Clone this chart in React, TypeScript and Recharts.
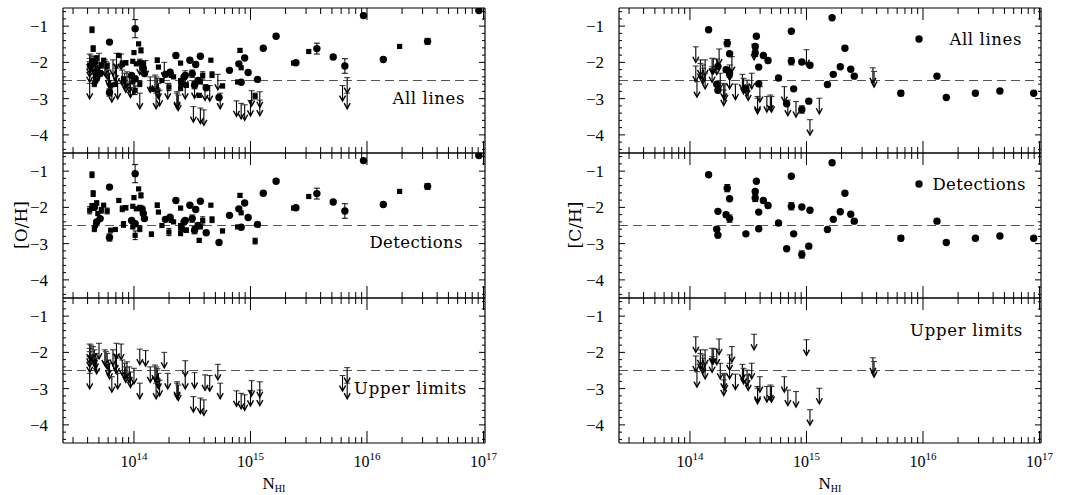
import React from 'react';
import { ScatterChart, Scatter, XAxis, YAxis, ErrorBar, ReferenceLine } from 'recharts';

// [log10 N_HI, [O/H], error]
const oDetCircles: [number, number, number][] = [
  [13.66, -2.0, 0], [13.68, -2.4, 0], [13.71, -2.31, 0], [13.79, -1.44, 0], [13.79, -2.83, 0.1],
  [14.01, -1.07, 0.25], [13.98, -2.36, 0], [14.01, -2.45, 0], [14.08, -2.17, 0], [14.09, -2.31, 0],
  [14.07, -2.04, 0], [14.27, -2.33, 0], [14.31, -2.27, 0], [14.36, -1.81, 0], [14.41, -2.59, 0.08],
  [14.43, -2.4, 0], [14.44, -2.36, 0], [14.48, -1.94, 0], [14.5, -2.31, 0.1], [14.52, -2.63, 0.1],
  [14.53, -2.06, 0], [14.55, -2.5, 0], [14.57, -1.83, 0], [14.62, -2.7, 0], [14.73, -2.97, 0],
  [14.82, -2.22, 0], [14.9, -2.04, 0], [14.92, -2.55, 0], [14.95, -1.88, 0], [14.98, -2.28, 0],
  [15.06, -2.47, 0], [15.11, -1.61, 0], [15.22, -1.28, 0.05], [15.39, -2.01, 0], [15.57, -1.62, 0.15],
  [15.71, -1.85, 0], [15.81, -2.1, 0.2], [15.97, -0.71, 0], [16.14, -1.92, 0], [16.52, -1.42, 0.08],
  [16.96, -0.57, 0],
];
const oDetSquares: [number, number, number][] = [
  [13.64, -1.1, 0.08], [13.65, -1.62, 0.08], [13.62, -2.08, 0.1], [13.64, -1.95, 0], [13.68, -1.88, 0.06],
  [13.69, -2.17, 0], [13.66, -2.59, 0.08], [13.67, -2.5, 0], [13.72, -2.08, 0.08], [13.74, -1.94, 0],
  [13.77, -2.1, 0.08], [13.8, -2.63, 0], [13.84, -2.61, 0], [13.87, -1.81, 0], [13.9, -2.04, 0.08],
  [13.93, -2.01, 0.06], [13.91, -2.47, 0.08], [14.0, -1.73, 0], [14.04, -1.49, 0], [14.06, -1.67, 0.07],
  [13.99, -1.97, 0], [14.02, -2.04, 0], [13.99, -2.54, 0], [14.01, -2.77, 0.12], [14.05, -2.59, 0.08],
  [14.05, -2.0, 0], [14.15, -2.74, 0.06], [14.2, -1.94, 0.06], [14.21, -2.13, 0], [14.24, -2.5, 0],
  [14.3, -2.68, 0.1], [14.32, -2.36, 0], [14.34, -2.4, 0], [14.4, -2.02, 0], [14.4, -2.5, 0],
  [14.4, -2.72, 0.06], [14.45, -2.63, 0.06], [14.56, -2.91, 0.05], [14.57, -2.54, 0], [14.59, -2.36, 0.1],
  [14.66, -1.94, 0], [14.67, -2.34, 0.08], [14.76, -2.65, 0.05], [14.89, -2.54, 0], [14.91, -1.67, 0.05],
  [14.92, -2.15, 0], [15.04, -2.93, 0.08], [15.37, -2.02, 0], [15.5, -1.7, 0], [16.28, -1.56, 0],
];
// [log10 N_HI, upper limit of [O/H]]
const oUpper: [number, number][] = [
  [13.62, -1.77], [13.62, -1.89], [13.62, -1.98], [13.62, -2.12], [13.62, -2.58],
  [13.63, -1.8], [13.65, -1.84], [13.66, -1.93], [13.67, -2.03], [13.68, -2.16], [13.7, -1.75],
  [13.75, -1.93], [13.76, -1.98], [13.77, -2.03], [13.78, -2.21], [13.79, -2.3], [13.81, -2.67],
  [13.82, -1.93], [13.84, -2.07], [13.85, -2.16], [13.85, -1.75], [13.86, -2.58], [13.89, -1.77],
  [13.9, -2.21], [13.92, -2.3], [13.93, -2.4], [13.94, -2.26], [13.96, -2.4], [13.97, -2.54],
  [14.0, -2.44], [14.05, -1.91], [14.05, -2.85], [14.1, -1.95], [14.14, -2.4], [14.18, -2.35],
  [14.19, -2.4], [14.2, -2.44], [14.2, -2.49], [14.21, -2.58], [14.22, -2.77], [14.19, -2.85],
  [14.26, -2.0], [14.29, -2.58], [14.37, -2.81], [14.37, -2.85], [14.38, -2.9], [14.44, -2.23],
  [14.44, -2.58], [14.51, -3.22], [14.52, -2.56], [14.57, -3.26], [14.6, -3.31], [14.61, -2.62],
  [14.65, -2.64], [14.72, -2.33], [14.74, -2.85], [14.88, -3.06], [14.92, -3.13], [14.95, -3.17],
  [15.0, -3.05], [15.01, -2.78], [15.08, -2.81], [15.08, -3.04], [15.79, -2.64], [15.83, -2.42],
  [15.83, -2.85],
];
// [log10 N_HI, [C/H], error]
const cDetCircles: [number, number, number][] = [
  [14.16, -1.1, 0], [14.32, -1.47, 0.1], [14.34, -1.76, 0], [14.24, -2.11, 0], [14.31, -2.2, 0.06],
  [14.34, -2.31, 0.1], [14.23, -2.6, 0.05], [14.24, -2.77, 0], [14.48, -2.73, 0], [14.57, -1.28, 0],
  [14.56, -1.56, 0.05], [14.56, -1.74, 0.1], [14.63, -1.81, 0], [14.67, -1.95, 0.06], [14.59, -2.13, 0],
  [14.59, -2.59, 0], [14.76, -2.43, 0], [14.87, -1.14, 0], [14.87, -1.97, 0.1], [14.89, -2.73, 0],
  [14.96, -1.99, 0], [15.03, -2.08, 0], [14.83, -3.14, 0], [14.96, -3.3, 0.1], [15.02, -3.07, 0.05],
  [15.18, -2.61, 0], [15.22, -0.77, 0], [15.23, -2.33, 0], [15.29, -2.12, 0], [15.33, -1.61, 0],
  [15.38, -2.19, 0], [15.41, -2.38, 0.05], [15.81, -2.85, 0.07], [16.12, -2.38, 0], [16.2, -2.97, 0],
  [16.45, -2.85, 0.04], [16.66, -2.79, 0], [16.95, -2.85, 0],
];
// [log10 N_HI, upper limit of [C/H]]
const cUpper: [number, number][] = [
  [14.05, -1.57], [14.05, -2.1], [14.06, -2.53], [14.09, -1.93], [14.09, -2.03], [14.11, -2.07],
  [14.11, -2.16], [14.13, -1.93], [14.13, -2.3], [14.19, -1.89], [14.19, -2.12], [14.2, -1.89],
  [14.23, -1.91], [14.25, -1.63], [14.26, -2.3], [14.29, -2.58], [14.29, -2.76], [14.3, -2.62],
  [14.34, -2.07], [14.34, -2.3], [14.36, -1.84], [14.39, -2.6], [14.45, -2.33], [14.46, -2.44],
  [14.49, -2.49], [14.5, -2.62], [14.53, -2.3], [14.55, -1.5], [14.58, -2.94], [14.58, -2.99],
  [14.6, -2.67], [14.66, -2.94], [14.69, -2.9], [14.7, -2.94], [14.81, -2.67], [14.84, -3.04],
  [14.91, -3.08], [15.0, -1.65], [15.03, -3.58], [15.11, -2.99], [15.57, -2.15], [15.58, -2.25],
];

const xMajorTicks = [1e14, 1e15, 1e16, 1e17];
const xMinorTicks = [
  3e13, 4e13, 5e13, 6e13, 7e13, 8e13, 9e13,
  2e14, 3e14, 4e14, 5e14, 6e14, 7e14, 8e14, 9e14,
  2e15, 3e15, 4e15, 5e15, 6e15, 7e15, 8e15, 9e15,
  2e16, 3e16, 4e16, 5e16, 6e16, 7e16, 8e16, 9e16,
];
const yMajorTicks = [-4, -3, -2, -1];
const yMinorTicks = [
  -4.4, -4.2, -3.8, -3.6, -3.4, -3.2, -2.8, -2.6, -2.4, -2.2, -1.8, -1.6, -1.4, -1.2, -0.8, -0.6,
];
const solarLine = -2.5;
const X_DOMAIN: [number, number] = [2.46e13, 1.03e17];
const Y_DOMAIN: [number, number] = [-4.5, -0.5];

// panel geometry (px) used to express tick-mark lengths in data units
const PLOT_W = 422;
const PLOT_H = 145;
const Y_PER_PX = (Y_DOMAIN[1] - Y_DOMAIN[0]) / PLOT_H;
const DEC_PER_PX = (Math.log10(X_DOMAIN[1]) - Math.log10(X_DOMAIN[0])) / PLOT_W;

const SERIF = '"Liberation Serif", "DejaVu Serif", serif';
const SERIF2 = '"DejaVu Serif", "Liberation Serif", serif';

type Row = { n: number; v: number; e?: number };
const toRows = (arr: number[][]): Row[] =>
  arr.map((d) => ({ n: Math.pow(10, d[0]), v: d[1], e: d[2] ? d[2] : undefined }));

type Seg = [{ x: number; y: number }, { x: number; y: number }];
const buildTickSegments = (): Seg[] => {
  const segs: Seg[] = [];
  const [x0, x1] = X_DOMAIN;
  const [y0, y1] = Y_DOMAIN;
  const xt = (t: number, px: number) => {
    const d = px * Y_PER_PX;
    segs.push([{ x: t, y: y0 }, { x: t, y: y0 + d }]);
    segs.push([{ x: t, y: y1 }, { x: t, y: y1 - d }]);
  };
  const yt = (t: number, px: number) => {
    const f = Math.pow(10, px * DEC_PER_PX);
    segs.push([{ x: x0, y: t }, { x: x0 * f, y: t }]);
    segs.push([{ x: x1 / f, y: t }, { x: x1, y: t }]);
  };
  xMajorTicks.forEach((t) => xt(t, 12));
  xMinorTicks.forEach((t) => xt(t, 6));
  yMajorTicks.forEach((t) => yt(t, 6));
  yMinorTicks.forEach((t) => yt(t, 3));
  return segs;
};
const TICK_SEGMENTS = buildTickSegments();

const CircleShape = (p: any) => <circle cx={p.cx} cy={p.cy} r={3.7} fill="#000" />;
const SquareShape = (p: any) => <rect x={p.cx - 2.6} y={p.cy - 2.6} width={5.2} height={5.2} fill="#000" />;
const ArrowShape = (p: any) => {
  const { cx, cy } = p;
  return (
    <g stroke="#000" fill="none" strokeWidth={1.1}>
      <line x1={cx - 3} x2={cx + 3} y1={cy} y2={cy} stroke="#444" />
      <line x1={cx} x2={cx} y1={cy} y2={cy + 15} />
      <path d={`M${cx - 3},${cy + 10} L${cx},${cy + 15.5} L${cx + 3},${cy + 10}`} strokeWidth={1.4} />
    </g>
  );
};

const XLabel = (props: any) => {
  const { x, y, payload } = props;
  const e = Math.round(Math.log10(payload.value));
  return (
    <text x={x} y={y + 24} textAnchor="middle" fontFamily={SERIF} fontSize={16} fill="#000" stroke="none">
      <tspan>10</tspan>
      <tspan dy={-7} fontSize={11}>{String(e)}</tspan>
    </text>
  );
};
const YLabel = (props: any) => {
  const { x, y, payload } = props;
  return (
    <text x={x - 15} y={y} dy="0.36em" textAnchor="end" fontFamily={SERIF} fontSize={17} fill="#000" stroke="none">
      {'\u2212' + Math.abs(Math.round(payload.value))}
    </text>
  );
};
const NoLabel = () => <g />;

const axisStyle = { stroke: '#000', strokeWidth: 1.2 };

type PanelProps = {
  left: number;
  top: number;
  height: number;
  mLeft: number;
  mRight: number;
  mBottom: number;
  circles?: Row[];
  squares?: Row[];
  upper?: Row[];
  xLabels: boolean;
};

const Panel = ({ left, top, height, mLeft, mRight, mBottom, circles, squares, upper, xLabels }: PanelProps) => (
  <div style={{ position: 'absolute', left, top, width: 540, height }}>
    <ScatterChart width={540} height={height} margin={{ top: 7, right: mRight - 1, bottom: mBottom - 1, left: mLeft - 1 }}>
      <XAxis
        xAxisId="b"
        orientation="bottom"
        dataKey="n"
        type="number"
        scale="log"
        domain={X_DOMAIN}
        allowDataOverflow
        ticks={xMajorTicks}
        interval={0}
        height={1}
        tickSize={0}
        tickMargin={0}
        tickLine={false}
        axisLine={axisStyle}
        tick={xLabels ? (p: any) => <XLabel {...p} /> : NoLabel}
      />
      <XAxis
        xAxisId="t"
        orientation="top"
        type="number"
        scale="log"
        domain={X_DOMAIN}
        allowDataOverflow
        ticks={xMajorTicks}
        interval={0}
        height={1}
        tickSize={0}
        tickLine={false}
        axisLine={axisStyle}
        tick={NoLabel}
      />
      <YAxis
        yAxisId="l"
        orientation="left"
        dataKey="v"
        type="number"
        domain={Y_DOMAIN}
        allowDataOverflow
        ticks={yMajorTicks}
        interval={0}
        width={1}
        tickSize={0}
        tickMargin={0}
        tickLine={false}
        axisLine={axisStyle}
        tick={(p: any) => <YLabel {...p} />}
      />
      <YAxis
        yAxisId="r"
        orientation="right"
        type="number"
        domain={Y_DOMAIN}
        allowDataOverflow
        ticks={yMajorTicks}
        interval={0}
        width={1}
        tickSize={0}
        tickLine={false}
        axisLine={axisStyle}
        tick={NoLabel}
      />
      {TICK_SEGMENTS.map((s, i) => (
        <ReferenceLine
          key={`tk${i}`}
          xAxisId="b"
          yAxisId="l"
          segment={s}
          ifOverflow="visible"
          stroke="#000"
          strokeWidth={1}
        />
      ))}
      <ReferenceLine
        xAxisId="b"
        yAxisId="l"
        y={solarLine}
        stroke="#555"
        strokeDasharray="9 5"
        strokeWidth={1.2}
      />
      {upper ? (
        <Scatter xAxisId="b" yAxisId="l" data={upper} shape={ArrowShape} isAnimationActive={false} />
      ) : null}
      {squares ? (
        <Scatter xAxisId="b" yAxisId="l" data={squares} shape={SquareShape} isAnimationActive={false}>
          <ErrorBar dataKey="e" direction="y" width={2.5} stroke="#000" strokeWidth={1} />
        </Scatter>
      ) : null}
      {circles ? (
        <Scatter xAxisId="b" yAxisId="l" data={circles} shape={CircleShape} isAnimationActive={false}>
          <ErrorBar dataKey="e" direction="y" width={3} stroke="#000" strokeWidth={1} />
        </Scatter>
      ) : null}
    </ScatterChart>
  </div>
);

export default function App() {
  const oc = toRows(oDetCircles);
  const os = toRows(oDetSquares);
  const ou = toRows(oUpper);
  const cc = toRows(cDetCircles);
  const cu = toRows(cUpper);
  const L = { left: 0, mLeft: 63, mRight: 55 };
  const R = { left: 540, mLeft: 79, mRight: 39 };
  const labelStyle = { fontFamily: SERIF2, fontSize: 16.5, fill: '#000' } as const;
  return (
    <div style={{ position: 'absolute', left: 0, top: 0, width: 1080, height: 495, background: '#fff' }}>
      <Panel {...L} top={0} height={161} mBottom={8} circles={oc} squares={os} upper={ou} xLabels={false} />
      <Panel {...L} top={145} height={161} mBottom={8} circles={oc} squares={os} xLabels={false} />
      <Panel {...L} top={290} height={205} mBottom={52} upper={ou} xLabels />
      <Panel {...R} top={0} height={161} mBottom={8} circles={cc} upper={cu} xLabels={false} />
      <Panel {...R} top={145} height={161} mBottom={8} circles={cc} xLabels={false} />
      <Panel {...R} top={290} height={205} mBottom={52} upper={cu} xLabels />
      <svg
        width={1080}
        height={495}
        style={{ position: 'absolute', left: 0, top: 0, pointerEvents: 'none' }}
      >
        <text x={465} y={103.5} textAnchor="end" {...labelStyle} letterSpacing={0.6}>All lines</text>
        <text x={463} y={247.5} textAnchor="end" {...labelStyle} letterSpacing={0.4}>Detections</text>
        <text x={467} y={393.5} textAnchor="end" {...labelStyle} letterSpacing={0.7}>Upper limits</text>
        <circle cx={919} cy={39} r={3.7} fill="#000" />
        <text x={1022} y={44.5} textAnchor="end" {...labelStyle} letterSpacing={0.6}>All lines</text>
        <circle cx={919} cy={184} r={3.7} fill="#000" />
        <text x={1026} y={189.5} textAnchor="end" {...labelStyle} letterSpacing={0.4}>Detections</text>
        <text x={1023} y={335.5} textAnchor="end" {...labelStyle} letterSpacing={0.7}>Upper limits</text>
        <text x={21} y={225} transform="rotate(-90 21 225)" dy="0.36em" textAnchor="middle" {...labelStyle} fontSize={17}>[O/H]</text>
        <text x={575} y={225} transform="rotate(-90 575 225)" dy="0.36em" textAnchor="middle" {...labelStyle} fontSize={17}>[C/H]</text>
        <text x={274} y={489} textAnchor="middle" fontFamily={SERIF} fontSize={17} fill="#000">
          N<tspan dy={3} fontSize={10}>HI</tspan>
        </text>
        <text x={830} y={489} textAnchor="middle" fontFamily={SERIF} fontSize={17} fill="#000">
          N<tspan dy={3} fontSize={10}>HI</tspan>
        </text>
      </svg>
    </div>
  );
}
